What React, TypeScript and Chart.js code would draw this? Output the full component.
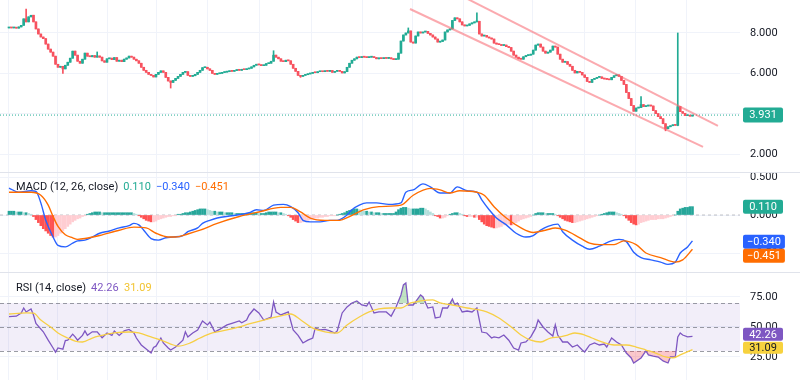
import React, { useEffect, useRef } from "react";
import { Chart, registerables } from "chart.js";

Chart.register(...registerables);

// ---------------- DATA ----------------
const firstOpen = 8.25;
const closes: number[] = [
  8.27, 8.25, 8.28, 8.24, 8.30, 8.38, 8.70, 8.55, 8.80, 8.88,
  8.55, 8.20, 7.95, 7.80, 7.72, 7.45, 7.20, 7.05, 6.85, 6.45,
  6.30, 6.35, 6.22, 6.40, 6.55, 6.75, 7.10, 6.90, 6.60, 6.50,
  6.70, 7.00, 6.85, 6.82, 6.88, 6.80, 6.86, 6.80, 6.62, 6.55,
  6.72, 6.75, 6.68, 6.78, 6.60, 6.65, 6.58, 6.70, 6.76, 6.85,
  6.80, 6.70, 6.62, 6.50, 6.30, 6.15, 6.05, 5.95, 5.90, 5.82,
  5.95, 6.05, 6.12, 6.05, 5.80, 5.62, 5.55, 5.65, 5.75, 5.85,
  5.95, 6.05, 6.08, 5.90, 5.85, 5.88, 5.95, 6.05, 6.15, 6.28,
  6.30, 6.22, 6.15, 6.00, 5.95, 5.98, 6.00, 6.04, 6.06, 6.08,
  6.12, 6.10, 6.14, 6.16, 6.15, 6.20, 6.18, 6.22, 6.25, 6.32,
  6.40, 6.45, 6.42, 6.38, 6.40, 6.48, 6.50, 6.60, 6.90, 6.80,
  6.72, 6.60, 6.58, 6.65, 6.62, 6.45, 6.25, 6.10, 5.90, 5.85,
  5.90, 5.93, 5.97, 6.00, 6.05, 6.03, 6.08, 6.10, 6.08, 6.12,
  6.10, 6.14, 6.05, 6.10, 6.12, 6.10, 6.02, 6.08, 6.30, 6.50,
  6.65, 6.72, 6.80, 6.78, 6.82, 6.80, 6.78, 6.80, 6.82, 6.78,
  6.72, 6.75, 6.73, 6.76, 6.74, 6.77, 6.72, 6.68, 6.70, 7.00,
  7.60, 7.90, 8.00, 8.10, 7.55, 7.50, 7.85, 8.05, 8.00, 8.05,
  8.08, 7.98, 7.90, 7.80, 7.70, 7.55, 7.58, 7.65, 8.05, 8.15,
  8.20, 8.62, 8.75, 8.70, 8.55, 8.40, 8.35, 8.38, 8.45, 8.50,
  8.55, 8.58, 7.95, 7.85, 7.88, 7.80, 7.75, 7.70, 7.50, 7.45,
  7.42, 7.38, 7.40, 7.32, 7.28, 7.10, 6.90, 6.80, 6.72, 6.70,
  6.82, 6.88, 6.90, 6.95, 7.15, 7.40, 7.45, 7.30, 7.10, 7.00,
  7.05, 7.15, 7.35, 7.30, 6.95, 6.70, 6.55, 6.58, 6.45, 6.35,
  6.15, 6.02, 6.10, 6.05, 5.92, 5.80, 5.60, 5.55, 5.70, 5.75,
  5.80, 5.82, 5.75, 5.72, 5.70, 5.68, 5.80, 5.88, 5.92, 5.85,
  5.65, 5.45, 5.05, 4.75, 4.40, 4.12, 4.28, 4.30, 4.45, 4.35,
  4.38, 4.42, 4.38, 4.15, 4.00, 3.85, 3.75, 3.50, 3.25, 3.35,
  3.40, 3.45, 3.42, 4.35, 4.10, 4.02, 3.90, 3.92, 3.88, 3.931,
];
// notable wicks: [candle index, price]
const wickHighs: [number, number][] = [
  [7, 9.19], [36, 7.06], [108, 7.12], [163, 8.25], [191, 9.0], [258, 4.85], [273, 8.0],
];
const wickLows: [number, number][] = [
  [22, 6.0], [66, 5.27], [119, 5.8], [268, 3.15], [273, 3.4],
];
// channel drawings: [candle index, price]
const upperChannel: [number, number][] = [[185.7, 9.78], [289.4, 3.39]];
const lowerChannel: [number, number][] = [[163.7, 9.19], [283.3, 2.35]];
const lastPrice = 3.931;
const priceTicks = [2, 4, 6, 8];
const timeGridIdx = [-0.4, 19.6, 40.4, 60.4, 81.2, 102.4, 123.3, 144.5, 164.9, 185.7, 213.9, 235.1, 255.9, 276.7];

const macdHist: number[] = [
  0.05, 0.05, 0.05, 0.04, 0.04, 0.04, 0.03, 0.03, 0.02, 0.01,
  -0.02, -0.06, -0.10, -0.14, -0.18, -0.21, -0.24, -0.27, -0.29, -0.29,
  -0.27, -0.24, -0.21, -0.18, -0.15, -0.12, -0.09, -0.07, -0.05, -0.04,
  -0.02, -0.01, 0.01, 0.02, 0.03, 0.04, 0.04, 0.04, 0.03, 0.03,
  0.03, 0.03, 0.03, 0.03, 0.03, 0.03, 0.03, 0.03, 0.03, 0.03,
  0.03, 0.02, 0.01, -0.01, -0.03, -0.05, -0.07, -0.08, -0.09, -0.09,
  -0.08, -0.06, -0.05, -0.04, -0.03, -0.02, -0.02, -0.01, -0.01, 0.01,
  0.01, 0.02, 0.03, 0.03, 0.04, 0.05, 0.06, 0.07, 0.08, 0.08,
  0.08, 0.07, 0.06, 0.05, 0.05, 0.04, 0.04, 0.04, 0.03, 0.03,
  0.03, 0.03, 0.02, 0.02, 0.02, 0.02, 0.02, 0.02, 0.02, 0.03,
  0.03, 0.03, 0.02, 0.02, 0.02, 0.03, 0.04, 0.04, 0.04, 0.04,
  0.03, 0.03, 0.02, 0.01, -0.01, -0.03, -0.06, -0.08, -0.10, -0.10,
  -0.09, -0.08, -0.07, -0.06, -0.05, -0.04, -0.04, -0.03, -0.03, -0.02,
  -0.02, -0.01, -0.01, -0.01, 0.00, 0.01, 0.02, 0.03, 0.05, 0.06,
  0.07, 0.08, 0.08, 0.07, 0.06, 0.05, 0.05, 0.04, 0.04, 0.03,
  0.03, 0.03, 0.02, 0.02, 0.02, 0.02, 0.02, 0.02, 0.04, 0.07,
  0.09, 0.10, 0.10, 0.09, 0.08, 0.08, 0.08, 0.08, 0.09, 0.09,
  0.08, 0.06, 0.04, 0.02, -0.01, -0.02, -0.04, -0.04, -0.03, -0.01,
  0.01, 0.02, 0.03, 0.03, 0.02, 0.01, -0.01, -0.02, -0.02, -0.02,
  -0.03, -0.03, -0.06, -0.09, -0.12, -0.14, -0.15, -0.16, -0.17, -0.17,
  -0.16, -0.15, -0.13, -0.12, -0.12, -0.13, -0.12, -0.10, -0.08, -0.06,
  -0.05, -0.04, -0.03, -0.02, 0.00, 0.02, 0.03, 0.03, 0.03, 0.02,
  0.02, 0.02, 0.02, 0.01, -0.01, -0.03, -0.05, -0.07, -0.08, -0.09,
  -0.10, -0.10, -0.09, -0.08, -0.07, -0.06, -0.05, -0.04, -0.03, -0.02,
  -0.01, 0.00, 0.01, 0.02, 0.03, 0.04, 0.04, 0.04, 0.03, 0.02,
  0.01, -0.01, -0.04, -0.07, -0.10, -0.12, -0.13, -0.12, -0.10, -0.09,
  -0.08, -0.07, -0.06, -0.06, -0.06, -0.05, -0.05, -0.05, -0.04, -0.03,
  -0.02, -0.01, 0.00, 0.05, 0.08, 0.09, 0.10, 0.10, 0.11, 0.11,
];
const macdLine: [number, number][] = [
  [0, 0.355], [4, 0.30], [9, 0.32], [11, 0.31], [13, 0.16], [15, -0.07], [18, -0.29], [20, -0.40],
  [23, -0.42], [26, -0.37], [28, -0.34], [31, -0.33], [34, -0.29], [37, -0.24], [41, -0.21], [45, -0.17],
  [49, -0.14], [51, -0.11], [53, -0.13], [55, -0.20], [58, -0.31], [61, -0.33], [64, -0.30], [67, -0.29],
  [71, -0.27], [73, -0.22], [77, -0.17], [79, -0.11], [82, -0.07], [85, -0.04], [91, -0.01], [98, 0.03],
  [101, 0.07], [104, 0.06], [108, 0.13], [112, 0.14], [115, 0.11], [118, 0.03], [120, -0.07], [123, -0.09],
  [127, -0.09], [131, -0.07], [134, -0.07], [138, 0.0], [140, 0.07], [143, 0.13], [146, 0.16], [150, 0.16],
  [155, 0.14], [160, 0.16], [162, 0.30], [165, 0.33], [169, 0.41], [172, 0.37], [176, 0.29], [180, 0.29],
  [183, 0.37], [187, 0.32], [191, 0.30], [193, 0.20], [196, 0.07], [199, -0.04], [203, -0.13], [207, -0.24],
  [211, -0.29], [214, -0.27], [217, -0.20], [220, -0.15], [224, -0.12], [226, -0.22], [230, -0.33], [234, -0.41],
  [237, -0.45], [241, -0.41], [245, -0.35], [249, -0.32], [252, -0.35], [255, -0.49], [258, -0.56], [262, -0.59],
  [266, -0.62], [269, -0.65], [272, -0.62], [274, -0.50], [277, -0.42], [279, -0.34],
];
const signalLine: [number, number][] = [
  [0, 0.30], [9, 0.30], [13, 0.26], [16, 0.13], [18, -0.02], [20, -0.15], [23, -0.26], [26, -0.30],
  [28, -0.32], [31, -0.31], [37, -0.27], [45, -0.20], [51, -0.16], [56, -0.17], [60, -0.24], [65, -0.29],
  [68, -0.29], [73, -0.25], [78, -0.20], [85, -0.11], [94, -0.02], [102, 0.04], [111, 0.10], [115, 0.10],
  [119, 0.04], [123, -0.04], [129, -0.07], [135, -0.07], [139, -0.02], [145, 0.07], [151, 0.11], [160, 0.13],
  [165, 0.26], [172, 0.35], [176, 0.33], [180, 0.29], [184, 0.32], [191, 0.30], [194, 0.26], [198, 0.11],
  [203, -0.04], [209, -0.17], [214, -0.23], [219, -0.20], [223, -0.17], [227, -0.20], [233, -0.30], [237, -0.37],
  [241, -0.39], [247, -0.39], [251, -0.34], [256, -0.39], [260, -0.50], [266, -0.56], [272, -0.62], [275, -0.59],
  [279, -0.451],
];
const macdTicks = [-0.5, 0, 0.5];
const macdValues = { hist: 0.110, macd: -0.340, signal: -0.451 };

const rsiLine: [number, number][] = [
  [0, 58.6], [3, 59], [5, 61.7], [6, 65.8], [7, 62.5], [9, 65], [10, 60], [11, 53], [14, 46], [16, 39],
  [18, 32.5], [19, 29], [20, 32.5], [22, 31.5], [23, 38.6], [24, 39], [26, 44], [27, 41.7], [28, 39], [30, 43],
  [31, 46.7], [32, 43], [34, 46], [36, 46], [38, 41], [40, 45], [42, 43], [43, 46.7], [45, 43], [47, 46.7],
  [49, 48], [51, 45], [52, 40.8], [54, 35], [56, 31.7], [58, 28.3], [59, 33], [60, 34], [62, 40.8], [63, 36.7],
  [65, 32.5], [66, 30.8], [68, 33.3], [71, 39], [72, 46], [73, 41.7], [75, 45], [77, 47.5], [79, 55], [81, 51.7],
  [82, 54], [84, 46], [86, 48], [89, 51.7], [91, 53], [94, 55], [95, 53.5], [97, 55.8], [98, 60], [100, 65],
  [102, 61.7], [104, 55.8], [107, 58.3], [108, 70.8], [109, 62.5], [111, 60], [114, 62.5], [116, 47.5], [118, 43], [120, 36.7],
  [122, 39], [124, 40.8], [125, 49], [127, 47.5], [129, 48], [131, 46.7], [133, 45], [134, 46.7], [136, 61.7], [138, 66.7],
  [140, 70], [142, 71.7], [144, 68.3], [146, 67.5], [147, 70.8], [149, 61.7], [151, 62.5], [154, 62.5], [156, 59], [158, 66.7],
  [160, 76.7], [161, 85], [162, 86.7], [163, 68.3], [165, 68.3], [168, 76.7], [169, 75], [171, 65.8], [173, 66.7], [174, 57.5],
  [176, 58.3], [177, 65.8], [179, 65.8], [181, 73.3], [182, 68.3], [183, 70], [185, 62.5], [187, 63.3], [189, 62.5], [191, 65.8],
  [193, 45.8], [195, 45], [197, 40.8], [198, 41.7], [200, 41], [202, 43.3], [204, 39], [206, 32.5], [208, 30.8], [209, 36.7],
  [211, 37.5], [213, 41.7], [215, 49], [216, 55.8], [218, 50], [220, 45.8], [222, 42.5], [223, 51.7], [224, 43.3], [226, 37.5],
  [228, 37.5], [230, 33.3], [232, 35], [234, 30.8], [235, 29.2], [237, 35], [239, 36.7], [241, 35], [243, 35.8], [244, 33.3],
  [246, 40.8], [248, 37.5], [250, 35], [252, 28.3], [254, 24.2], [255, 20], [258, 24.2], [260, 30], [261, 26.7], [263, 25.8],
  [265, 25], [267, 21.7], [269, 20], [270, 25], [272, 25], [273, 41.7], [274, 45], [275, 43.3], [277, 41.7], [279, 42.26],
];
const rsiMa: [number, number][] = [
  [0, 60.8], [7, 61.7], [10, 61.5], [13, 55.8], [17, 50], [20, 45], [24, 40.8], [27, 38.3], [30, 37.5], [34, 40.8],
  [37, 42.5], [43, 45], [49, 45.8], [53, 45], [58, 41.7], [62, 39], [66, 35.8], [69, 34], [74, 36.7], [78, 40.8],
  [83, 45], [89, 47.5], [94, 50], [98, 52.5], [104, 55.8], [111, 59.2], [115, 60.8], [119, 56], [124, 49], [129, 46],
  [134, 45], [138, 51.7], [143, 58.3], [147, 62.5], [151, 65], [156, 65.8], [160, 65.8], [164, 70], [168, 71.7], [173, 72.5],
  [176, 70], [181, 68.3], [187, 65.8], [192, 64.2], [195, 62.5], [200, 57.5], [205, 50], [209, 43.3], [213, 39], [217, 37.5],
  [221, 40.8], [225, 41.7], [228, 43.3], [231, 45], [235, 43.3], [238, 40.8], [242, 37.5], [247, 35], [252, 35], [256, 33.3],
  [260, 30.8], [264, 28.3], [268, 25], [271, 24.2], [274, 26.7], [279, 31.09],
];
const rsiTicks = [25, 50, 75];
const rsiBands = [70, 50, 30];
const rsiValues = { rsi: 42.26, ma: 31.09 };

// ---------------- STYLE / LAYOUT ----------------
const FONT = "Roboto, 'Noto Sans', Arial, sans-serif";
const X_MIN = -3.67;
const X_MAX = 298.4;
const W = 800;
const H_MAIN = 172;
const H_MACD = 100;
const H_RSI = 108;
const AXIS_W = 60;
const UP = "#22ab94";
const DOWN = "#f7525f";
const GRID = "#f0f3fa";
const CHANNEL = "rgba(247, 100, 110, 0.55)";
const TEXT = "#131722";

const fmt = (v: number, d: number) => (v < 0 ? "\u2212" : "") + Math.abs(v).toFixed(d);

function baseOptions(yMin: number, yMax: number, yTicks: number[], decimals: number): any {
  return {
    responsive: false,
    maintainAspectRatio: false,
    animation: false,
    events: [],
    layout: { padding: 0 },
    plugins: { legend: { display: false }, tooltip: { enabled: false }, title: { display: false } },
    scales: {
      x: {
        type: "linear",
        min: X_MIN,
        max: X_MAX,
        bounds: "data",
        offset: false,
        afterBuildTicks: (s: any) => {
          s.ticks = timeGridIdx.map((v) => ({ value: v }));
        },
        ticks: { display: false },
        grid: { color: GRID, drawTicks: false, offset: false },
        border: { display: false },
        afterFit: (s: any) => {
          s.height = 0;
        },
      },
      y: {
        type: "linear",
        position: "right",
        min: yMin,
        max: yMax,
        bounds: "data",
        afterBuildTicks: (s: any) => {
          s.ticks = yTicks.map((v) => ({ value: v }));
        },
        ticks: {
          padding: 10,
          color: TEXT,
          font: { family: FONT, size: 11 },
          callback: (v: any) => fmt(Number(v), decimals),
        },
        grid: { color: GRID, drawTicks: false },
        border: { display: false },
        afterFit: (s: any) => {
          s.width = AXIS_W;
          s.paddingTop = 0;
          s.paddingBottom = 0;
        },
      },
    },
  };
}

function drawBox(ctx: CanvasRenderingContext2D, x: number, cy: number, text: string, bg: string, fg: string, h = 14) {
  ctx.save();
  ctx.font = `11px ${FONT}`;
  const tw = ctx.measureText(text).width;
  const w = Math.max(40, tw + 8);
  ctx.fillStyle = bg;
  ctx.beginPath();
  if ((ctx as any).roundRect) (ctx as any).roundRect(x, cy - h / 2, w, h, 2);
  else ctx.rect(x, cy - h / 2, w, h);
  ctx.fill();
  ctx.fillStyle = fg;
  ctx.textBaseline = "middle";
  ctx.textAlign = "center";
  ctx.fillText(text, x + w / 2, cy + 0.5);
  ctx.restore();
}

function drawLegend(ctx: CanvasRenderingContext2D, items: { text: string; color: string; x: number }[], y: number) {
  ctx.save();
  ctx.font = `11px ${FONT}`;
  ctx.textBaseline = "middle";
  ctx.textAlign = "left";
  let end = 0;
  for (const it of items) {
    const x = Math.max(it.x, end + 5);
    ctx.fillStyle = it.color;
    ctx.fillText(it.text, x, y);
    end = x + ctx.measureText(it.text).width;
  }
  ctx.restore();
}

const separatorPlugin = {
  id: "separator",
  afterDraw(chart: any) {
    const ctx = chart.ctx;
    ctx.save();
    ctx.strokeStyle = "#e0e3eb";
    ctx.lineWidth = 1;
    ctx.beginPath();
    ctx.moveTo(0, 0.5);
    ctx.lineTo(W, 0.5);
    ctx.stroke();
    ctx.restore();
  },
};

export default function App() {
  const mainRef = useRef<HTMLCanvasElement>(null);
  const macdRef = useRef<HTMLCanvasElement>(null);
  const rsiRef = useRef<HTMLCanvasElement>(null);

  useEffect(() => {
    // ---- candles ----
    const opens = closes.map((c, i) => (i === 0 ? firstOpen : closes[i - 1]));
    const highs = closes.map((c, i) => Math.max(c, opens[i]));
    const lows = closes.map((c, i) => Math.min(c, opens[i]));
    wickHighs.forEach(([i, v]) => (highs[i] = v));
    wickLows.forEach(([i, v]) => (lows[i] = v));
    const candleColors = closes.map((c, i) => (c >= opens[i] ? UP : DOWN));

    const priceLabelPlugin = {
      id: "priceLabel",
      afterDraw(chart: any) {
        const { ctx, chartArea, scales } = chart;
        drawBox(ctx, chartArea.right + 3, scales.y.getPixelForValue(lastPrice), fmt(lastPrice, 3), UP, "#ffffff", 15);
      },
    };

    const mainChart = new Chart(mainRef.current as HTMLCanvasElement, {
      type: "bar",
      data: {
        datasets: [
          {
            type: "line",
            label: "upper channel",
            data: upperChannel.map(([x, y]) => ({ x, y })),
            borderColor: CHANNEL,
            borderWidth: 2,
            pointRadius: 0,
            order: 0,
          } as any,
          {
            type: "line",
            label: "lower channel",
            data: lowerChannel.map(([x, y]) => ({ x, y })),
            borderColor: CHANNEL,
            borderWidth: 2,
            pointRadius: 0,
            order: 0,
          } as any,
          {
            type: "bar",
            label: "bodies",
            data: closes.map((c, i) => ({ x: i, y: [opens[i], c] })),
            backgroundColor: candleColors,
            barThickness: 2,
            minBarLength: 1,
            grouped: false,
            order: 1,
          } as any,
          {
            type: "bar",
            label: "wicks",
            data: closes.map((c, i) => ({ x: i, y: [lows[i], highs[i]] })),
            backgroundColor: candleColors,
            barThickness: 1,
            grouped: false,
            order: 2,
          } as any,
          {
            type: "line",
            label: "last price",
            data: [
              { x: X_MIN, y: lastPrice },
              { x: X_MAX, y: lastPrice },
            ],
            borderColor: UP,
            borderWidth: 1,
            borderDash: [1, 2],
            pointRadius: 0,
            order: 3,
          } as any,
        ],
      },
      options: baseOptions(1.108, 9.635, priceTicks, 3),
      plugins: [priceLabelPlugin],
    });

    // ---- MACD ----
    const histColors = macdHist.map((v, i) => {
      const prev = i === 0 ? v : macdHist[i - 1];
      if (v >= 0) return v >= prev ? "#26a69a" : "#b2dfdb";
      return v < prev ? "#ff5252" : "#ffcdd2";
    });
    const macdLabelPlugin = {
      id: "macdLabels",
      afterDraw(chart: any) {
        const { ctx, chartArea, scales } = chart;
        drawLegend(
          ctx,
          [
            { text: "MACD (12, 26, close)", color: TEXT, x: 16 },
            { text: fmt(macdValues.hist, 3), color: UP, x: 122 },
            { text: fmt(macdValues.macd, 3), color: "#2962ff", x: 156 },
            { text: fmt(macdValues.signal, 3), color: "#ff6d00", x: 193 },
          ],
          15
        );
        const x = chartArea.right + 3;
        drawBox(ctx, x, scales.y.getPixelForValue(macdValues.hist), fmt(macdValues.hist, 3), UP, "#ffffff");
        const y1 = scales.y.getPixelForValue(macdValues.macd) + 1;
        let y2 = scales.y.getPixelForValue(macdValues.signal);
        if (y2 - y1 < 14) y2 = y1 + 14;
        drawBox(ctx, x, y1, fmt(macdValues.macd, 3), "#2962ff", "#ffffff");
        drawBox(ctx, x, y2, fmt(macdValues.signal, 3), "#ff6d00", "#ffffff");
      },
    };
    const macdChart = new Chart(macdRef.current as HTMLCanvasElement, {
      type: "bar",
      data: {
        datasets: [
          {
            type: "line",
            label: "Signal",
            data: signalLine.map(([x, y]) => ({ x, y })),
            borderColor: "#ff6d00",
            borderWidth: 1.4,
            pointRadius: 0,
            cubicInterpolationMode: "monotone",
            order: 0,
          } as any,
          {
            type: "line",
            label: "MACD",
            data: macdLine.map(([x, y]) => ({ x, y })),
            borderColor: "#2962ff",
            borderWidth: 1.4,
            pointRadius: 0,
            cubicInterpolationMode: "monotone",
            order: 1,
          } as any,
          {
            type: "bar",
            label: "Histogram",
            data: macdHist.map((v, i) => ({ x: i, y: v })),
            backgroundColor: histColors,
            barThickness: 2,
            grouped: false,
            order: 2,
          } as any,
          {
            type: "line",
            label: "zero",
            data: [
              { x: X_MIN, y: 0 },
              { x: X_MAX, y: 0 },
            ],
            borderColor: "rgba(120,123,134,0.45)",
            borderWidth: 1,
            borderDash: [3, 3],
            pointRadius: 0,
            order: 3,
          } as any,
        ],
      },
      options: baseOptions(-0.75, 0.566, macdTicks, 3),
      plugins: [separatorPlugin, macdLabelPlugin],
    });

    // ---- RSI ----
    const rsiBandPlugin = {
      id: "rsiBand",
      beforeDatasetsDraw(chart: any) {
        const { ctx, chartArea, scales } = chart;
        const y70 = scales.y.getPixelForValue(rsiBands[0]);
        const y30 = scales.y.getPixelForValue(rsiBands[2]);
        ctx.save();
        ctx.fillStyle = "rgba(126,87,194,0.1)";
        ctx.fillRect(chartArea.left, y70, chartArea.right - chartArea.left, y30 - y70);
        ctx.strokeStyle = "rgba(120,123,134,0.75)";
        ctx.lineWidth = 1;
        ctx.setLineDash([4, 3]);
        for (const b of rsiBands) {
          const y = Math.round(scales.y.getPixelForValue(b)) + 0.5;
          ctx.beginPath();
          ctx.moveTo(chartArea.left, y);
          ctx.lineTo(chartArea.right, y);
          ctx.stroke();
        }
        ctx.restore();
      },
    };
    const rsiLabelPlugin = {
      id: "rsiLabels",
      afterDraw(chart: any) {
        const { ctx, chartArea, scales } = chart;
        drawLegend(
          ctx,
          [
            { text: "RSI (14, close)", color: TEXT, x: 16 },
            { text: rsiValues.rsi.toFixed(2), color: "#7e57c2", x: 91 },
            { text: rsiValues.ma.toFixed(2), color: "#f2c431", x: 124 },
          ],
          16
        );
        const x = chartArea.right + 3;
        const y1 = scales.y.getPixelForValue(rsiValues.rsi) - 2;
        let y2 = scales.y.getPixelForValue(rsiValues.ma) - 2;
        if (y2 - y1 < 13) y2 = y1 + 13;
        drawBox(ctx, x, y1, rsiValues.rsi.toFixed(2), "#7e57c2", "#ffffff", 13);
        drawBox(ctx, x, y2, rsiValues.ma.toFixed(2), "#f7d23e", TEXT, 12);
      },
    };
    const rsiChart = new Chart(rsiRef.current as HTMLCanvasElement, {
      type: "line",
      data: {
        datasets: [
          {
            label: "RSI-based MA",
            data: rsiMa.map(([x, y]) => ({ x, y })),
            borderColor: "#f7cf45",
            borderWidth: 1.3,
            pointRadius: 0,
            cubicInterpolationMode: "monotone",
            order: 0,
          } as any,
          {
            label: "RSI",
            data: rsiLine.map(([x, y]) => ({ x, y })),
            borderColor: "#7e57c2",
            borderWidth: 1.3,
            pointRadius: 0,
            tension: 0,
            fill: { value: rsiBands[0], above: "rgba(76,175,80,0.35)", below: "rgba(0,0,0,0)" },
            order: 1,
          } as any,
          {
            label: "RSI oversold",
            data: rsiLine.map(([x, y]) => ({ x, y })),
            borderColor: "rgba(0,0,0,0)",
            borderWidth: 0,
            pointRadius: 0,
            tension: 0,
            fill: { value: rsiBands[2], above: "rgba(0,0,0,0)", below: "rgba(242,54,69,0.28)" },
            order: 2,
          } as any,
        ],
      },
      options: baseOptions(5.83, 95.8, rsiTicks, 2),
      plugins: [separatorPlugin, rsiBandPlugin, rsiLabelPlugin],
    });

    return () => {
      mainChart.destroy();
      macdChart.destroy();
      rsiChart.destroy();
    };
  }, []);

  return (
    <div style={{ position: "absolute", left: 0, top: 0, width: W, background: "#ffffff" }}>
      <canvas ref={mainRef} width={W} height={H_MAIN} style={{ display: "block", width: W, height: H_MAIN }} />
      <canvas ref={macdRef} width={W} height={H_MACD} style={{ display: "block", width: W, height: H_MACD }} />
      <canvas ref={rsiRef} width={W} height={H_RSI} style={{ display: "block", width: W, height: H_RSI }} />
    </div>
  );
}
